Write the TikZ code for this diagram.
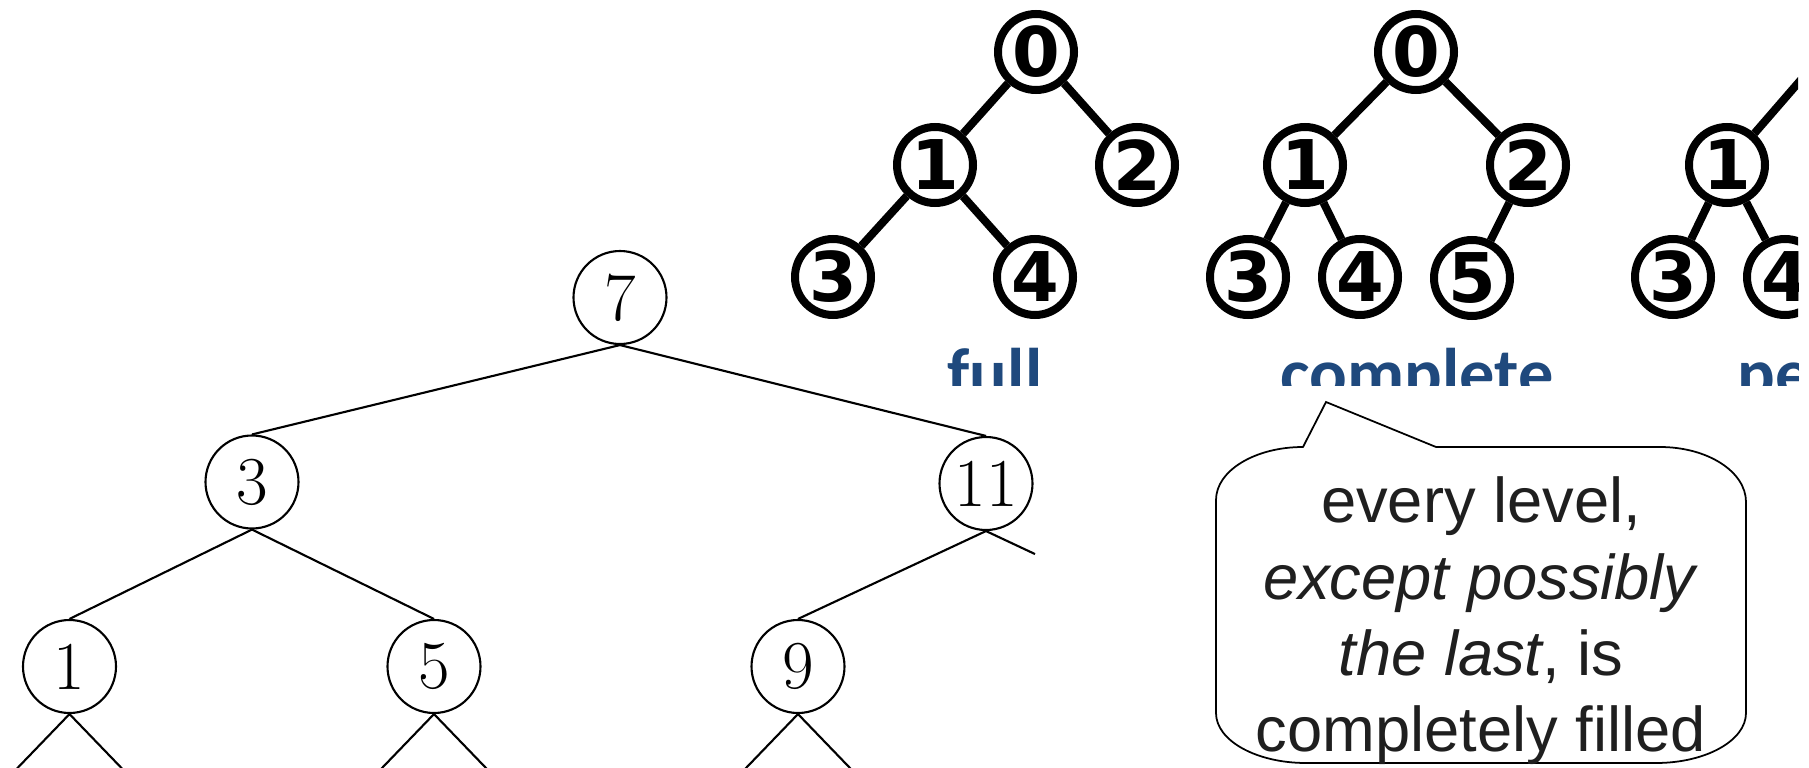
\documentclass[tikz,border=0pt]{standalone}
\usepackage{fontspec}
\usepackage{tikz}
\usetikzlibrary{calc}

\newfontfamily\bubblefont{Liberation Sans}
\newfontfamily\keyfont{DejaVu Sans}
\newfontfamily\kindfont{Carlito}
\definecolor{kindblue}{RGB}{31,73,125}

\begin{document}
\begin{tikzpicture}
  \tikzstyle{bst}=[circle, draw, line width=0.6pt, minimum size=0.93cm, inner sep=0pt, font=\fontsize{19.5}{20}\selectfont]
  \tikzstyle{bstedge}=[line width=0.6pt]
  \tikzstyle{heap}=[circle, draw, line width=0.08cm, minimum size=0.76cm, inner sep=0pt, font=\keyfont\bfseries\fontsize{19.5}{20}\selectfont]
  \tikzstyle{heapedge}=[line width=0.08cm]
  \tikzstyle{kind}=[anchor=base, inner sep=0pt, text=kindblue, font=\kindfont\bfseries\fontsize{20}{22}\selectfont]

  \useasboundingbox (0,0) rectangle (18.09,-7.68);
  \clip (0,0) rectangle (17.98,-7.68);

  % binary search tree
  \node (n7) at (6.20,-2.975) [bst] {7};
  \node (n3) at (2.52,-4.82) [bst] {3};
  \node (n11) at (9.86,-4.835) [bst] {11};
  \node (n1) at (0.695,-6.665) [bst] {1};
  \node (n5) at (4.34,-6.665) [bst] {5};
  \node (n9) at (7.98,-6.665) [bst] {9};
  \foreach \a/\b in {n7/n3, n7/n11, n3/n1, n3/n5, n11/n9}
    \draw[bstedge] (\a.south) -- (\b.north);
  % subtrees going on below
  \foreach \n in {n1, n5, n9} {
    \coordinate (\n-l) at ($(\n.south)+(-0.53,-0.55)$);
    \coordinate (\n-r) at ($(\n.south)+(0.53,-0.55)$);
    \draw[bstedge] (\n-l) -- (\n.south) -- (\n-r);
  }
  \coordinate (n11-r) at ($(n11.south)+(0.49,-0.23)$);
  \draw[bstedge] (n11.south) -- (n11-r);

  % full tree
  \begin{scope}[shift={(10.36,-0.52)}]
    \node (f0) at (0,0) [heap] {0};
    \node (f1) at (-1.01,-1.13) [heap] {1};
    \node (f2) at (1.01,-1.13) [heap] {2};
    \node (f3) at (-2.03,-2.25) [heap] {3};
    \node (f4) at (-0.01,-2.25) [heap] {4};
    \foreach \a/\b in {f0/f1, f0/f2, f1/f3, f1/f4}
      \draw[heapedge] (\a) -- (\b);
  \end{scope}

  % complete tree
  \begin{scope}[shift={(14.16,-0.52)}]
    \node (c0) at (0,0) [heap] {0};
    \node (c1) at (-1.11,-1.13) [heap] {1};
    \node (c2) at (1.12,-1.13) [heap] {2};
    \node (c3) at (-1.68,-2.25) [heap] {3};
    \node (c4) at (-0.56,-2.25) [heap] {4};
    \node (c5) at (0.56,-2.26) [heap] {5};
    \foreach \a/\b in {c0/c1, c0/c2, c1/c3, c1/c4, c2/c5}
      \draw[heapedge] (\a) -- (\b);
  \end{scope}

  % perfect tree, runs off the right
  \begin{scope}[shift={(18.25,-0.52)}]
    \coordinate (p0) at (0,0);
    \node (p1) at (-0.98,-1.13) [heap] {1};
    \node (p3) at (-1.52,-2.25) [heap] {3};
    \node (p4) at (-0.40,-2.25) [heap] {4};
    \foreach \a/\b in {p0/p1, p1/p3, p1/p4}
      \draw[heapedge] (\a) -- (\b);
  \end{scope}

  % captions, cut at the bottom
  \begin{scope}
    \clip (7,0) rectangle (18.09,-3.85);
    \node (fullkind) at (9.95,-3.97) [kind] {full};
    \node (completekind) at (14.17,-3.97) [kind] {complete};
    \node (perfectkind) at (17.37,-3.97) [kind, anchor=base west] {pe};
  \end{scope}

  % speech bubble
  \draw[line width=0.5pt, fill=white] (13.03,-4.47) -- (13.26,-4.02) -- (14.36,-4.47) -- (16.60,-4.47)
    arc[start angle=90, end angle=0, x radius=0.86, y radius=0.55] -- (17.46,-7.13)
    arc[start angle=0, end angle=-90, x radius=0.9, y radius=0.5] -- (13.06,-7.63)
    arc[start angle=-90, end angle=-180, x radius=0.9, y radius=0.5] -- (12.16,-5.0)
    arc[start angle=180, end angle=90, x radius=0.87, y radius=0.53] -- cycle;
  \node (note) at (14.81,-6.21) [align=center, inner sep=0pt, text=black!88, font=\bubblefont\fontsize{18}{21.7}\selectfont]
    {every level,\\ \textit{except possibly}\\ \textit{the last}, is\\ completely filled};
\end{tikzpicture}
\end{document}
